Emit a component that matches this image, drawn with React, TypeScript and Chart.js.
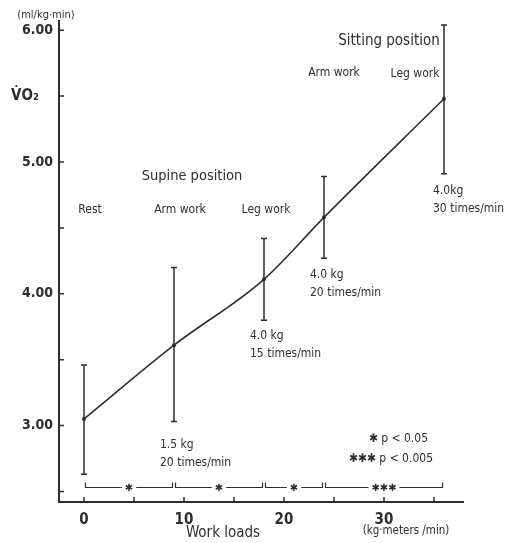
import React, { useEffect, useRef } from "react";
import { Chart, registerables } from "chart.js";

Chart.register(...registerables);

// ---- data ----
const workLoads = [0, 9, 18, 24, 36];
const vo2Mean = [3.05, 3.61, 4.11, 4.58, 5.48];
const vo2Upper = [3.46, 4.2, 4.42, 4.89, 6.04];
const vo2Lower = [2.63, 3.03, 3.8, 4.27, 4.91];

const xTickValues = [0, 5, 10, 15, 20, 25, 30, 35];
const yTickValues = [2.5, 3, 3.5, 4, 4.5, 5, 5.5, 6];

// significance brackets: [from, to, label]
const sigFrom = [0, 9, 18, 24];
const sigTo = [9, 18, 24, 36];
const sigLabels = ["✱", "✱", "✱", "✱✱✱"];
const sigLevel = 2.53;

// condition labels
const condTexts = ["Rest", "Arm work", "Leg work", "Supine position", "Arm work", "Leg work", "Sitting position"];
const condX = [0.6, 9.6, 18.2, 10.8, 25, 33.1, 30.5];
const condY = [4.64, 4.64, 4.64, 4.89, 5.68, 5.67, 5.92];
const condSize = [12, 12, 12, 14.5, 12, 12, 15];

// load annotations
const loadLine1 = ["1.5 kg", "4.0 kg", "4.0 kg", "4.0kg"];
const loadLine2 = ["20 times/min", "15 times/min", "20 times/min", "30 times/min"];
const loadX = [7.6, 16.6, 22.6, 34.9];
const loadY = [2.85, 3.68, 4.14, 4.78];

const INK = "#2e2e2e";
const TEXT_FONT = "'DejaVu Sans Condensed', 'DejaVu Sans', sans-serif";
const TICK_FONT = "'Liberation Sans Narrow', 'Arial Narrow', 'DejaVu Sans Condensed', sans-serif";

const drawPlugin = {
  id: "customDraw",
  afterDatasetsDraw(chart: any) {
    const ctx = chart.ctx;
    const x = chart.scales.x;
    const y = chart.scales.y;
    const area = chart.chartArea;
    ctx.save();
    ctx.strokeStyle = INK;
    ctx.fillStyle = INK;

    // inside tick marks
    ctx.lineWidth = 1.5;
    ctx.beginPath();
    xTickValues.forEach((v) => {
      const px = x.getPixelForValue(v);
      ctx.moveTo(px, area.bottom);
      ctx.lineTo(px, area.bottom - 5);
    });
    yTickValues.forEach((v) => {
      const py = y.getPixelForValue(v);
      ctx.moveTo(area.left, py);
      ctx.lineTo(area.left + 5, py);
    });
    ctx.stroke();

    // error bars
    ctx.lineWidth = 1.5;
    workLoads.forEach((w, i) => {
      const px = x.getPixelForValue(w);
      const top = y.getPixelForValue(vo2Upper[i]);
      const bot = y.getPixelForValue(vo2Lower[i]);
      ctx.beginPath();
      ctx.moveTo(px, top);
      ctx.lineTo(px, bot);
      ctx.moveTo(px - 3, top);
      ctx.lineTo(px + 3, top);
      ctx.moveTo(px - 3, bot);
      ctx.lineTo(px + 3, bot);
      ctx.stroke();
    });

    // significance brackets
    const sy = y.getPixelForValue(sigLevel);
    ctx.lineWidth = 1.2;
    ctx.font = `10px 'DejaVu Sans', sans-serif`;
    ctx.textAlign = "center";
    ctx.textBaseline = "middle";
    sigFrom.forEach((f, i) => {
      const x0 = x.getPixelForValue(f) + 1.5;
      const x1 = x.getPixelForValue(sigTo[i]) - 1.5;
      const mid = (x0 + x1) / 2;
      const tw = ctx.measureText(sigLabels[i]).width;
      ctx.beginPath();
      ctx.moveTo(x0, sy - 5);
      ctx.lineTo(x0, sy);
      ctx.lineTo(mid - tw / 2 - 3, sy);
      ctx.moveTo(mid + tw / 2 + 3, sy);
      ctx.lineTo(x1, sy);
      ctx.lineTo(x1, sy - 5);
      ctx.stroke();
      ctx.fillText(sigLabels[i], mid, sy + 0.5);
    });

    // condition labels
    condTexts.forEach((t, i) => {
      ctx.font = `${condSize[i]}px ${TEXT_FONT}`;
      ctx.textAlign = "center";
      ctx.textBaseline = "middle";
      ctx.fillText(t, x.getPixelForValue(condX[i]), y.getPixelForValue(condY[i]));
    });

    // load annotations
    ctx.font = `12px ${TEXT_FONT}`;
    ctx.textAlign = "left";
    loadLine1.forEach((t, i) => {
      const px = x.getPixelForValue(loadX[i]);
      const py = y.getPixelForValue(loadY[i]);
      ctx.fillText(t, px, py);
      ctx.fillText(loadLine2[i], px, py + 18);
    });

    // p-value legend
    ctx.font = `12px ${TEXT_FONT}`;
    ctx.textAlign = "right";
    const lx = x.getPixelForValue(34.9);
    ctx.fillText("✱ p < 0.05", lx - 5, y.getPixelForValue(2.9));
    ctx.fillText("✱✱✱ p < 0.005", lx, y.getPixelForValue(2.745));

    // axis titles
    ctx.textAlign = "center";
    ctx.font = `11px ${TEXT_FONT}`;
    ctx.fillText("(ml/kg·min)", area.left - 13, area.top - 6);
    ctx.font = `bold 15px ${TEXT_FONT}`;
    ctx.fillText("V̇O₂", area.left - 34, y.getPixelForValue(5.5));
    ctx.font = `15px ${TEXT_FONT}`;
    ctx.fillText("Work loads", x.getPixelForValue(13.9), area.bottom + 31);
    ctx.font = `11.5px ${TEXT_FONT}`;
    ctx.fillText("(kg·meters /min)", x.getPixelForValue(32.2), area.bottom + 29);

    ctx.restore();
  },
};

export default function App() {
  const canvasRef = useRef<HTMLCanvasElement | null>(null);

  useEffect(() => {
    const canvas = canvasRef.current;
    if (!canvas) return;
    const chart = new Chart(canvas, {
      type: "line",
      data: {
        datasets: [
          {
            data: workLoads.map((w, i) => ({ x: w, y: vo2Mean[i] })),
            borderColor: INK,
            borderWidth: 1.6,
            backgroundColor: INK,
            pointRadius: 2,
            pointBackgroundColor: INK,
            pointBorderWidth: 0,
            cubicInterpolationMode: "monotone",
            fill: false,
          },
        ],
      },
      options: {
        responsive: false,
        animation: false,
        events: [],
        layout: { padding: { left: 8, top: 21, right: 51, bottom: 11 } },
        plugins: { legend: { display: false }, tooltip: { enabled: false }, title: { display: false } },
        scales: {
          x: {
            type: "linear",
            min: -2.5,
            max: 37.9,
            afterBuildTicks: (s: any) => {
              s.ticks = xTickValues.map((v) => ({ value: v }));
            },
            afterFit: (s: any) => {
              s.height = 30;
            },
            grid: { display: true, drawOnChartArea: false, drawTicks: false },
            border: { display: true, color: INK, width: 2 },
            ticks: {
              autoSkip: false,
              maxRotation: 0,
              padding: 9,
              color: INK,
              font: { family: TICK_FONT, size: 15, weight: "bold" },
              callback: (v: any) => (Number(v) % 10 === 0 ? String(v) : ""),
            },
          },
          y: {
            type: "linear",
            min: 2.42,
            max: 6.07,
            afterBuildTicks: (s: any) => {
              s.ticks = yTickValues.map((v) => ({ value: v }));
            },
            afterFit: (s: any) => {
              s.width = 51;
            },
            grid: { display: true, drawOnChartArea: false, drawTicks: false },
            border: { display: true, color: INK, width: 2 },
            ticks: {
              autoSkip: false,
              padding: 6,
              color: INK,
              font: { family: TICK_FONT, size: 14, weight: "bold" },
              callback: (v: any) => (Number.isInteger(Number(v)) ? Number(v).toFixed(2) : ""),
            },
          },
        },
      },
      plugins: [drawPlugin],
    } as any);
    return () => chart.destroy();
  }, []);

  return (
    <div style={{ position: "absolute", left: 0, top: 0, width: 514, height: 543, background: "#fff" }}>
      <canvas ref={canvasRef} width={514} height={543} style={{ display: "block" }} />
    </div>
  );
}
